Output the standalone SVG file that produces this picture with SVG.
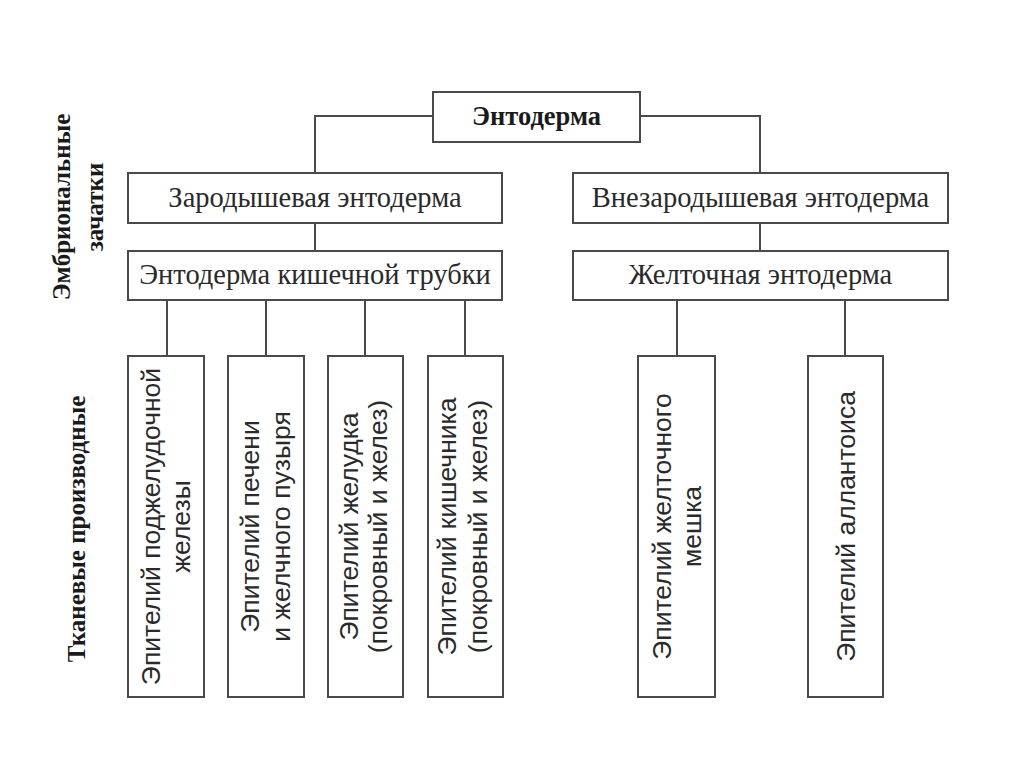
<svg xmlns="http://www.w3.org/2000/svg" width="1024" height="767" viewBox="0 0 1024 767">
<style>
.box{fill:#fff;stroke:#4a4a4a;stroke-width:2}
.ln{fill:none;stroke:#4a4a4a;stroke-width:2}
.h{font-family:"Liberation Serif","Times New Roman",serif;font-size:28.5px;fill:#2a2a2a;text-anchor:middle}
.hb{font-family:"Liberation Serif","Times New Roman",serif;font-size:26.5px;font-weight:bold;fill:#1a1a1a;text-anchor:middle}
.v{font-family:"Liberation Sans",Arial,sans-serif;font-size:26.5px;fill:#2a2a2a;text-anchor:middle}
.lab{font-family:"Liberation Serif","Times New Roman",serif;font-size:25px;font-weight:bold;fill:#1a1a1a;text-anchor:middle}
</style>
<rect width="1024" height="767" fill="#fff"/>
<g id="connectors">
<path class="ln" d="M433 116H315V173M640 116H760V173M315 223V251M760 223V251"/>
<path class="ln" d="M167 300V356M266 300V356M365 300V356M465 300V356M677 300V356M845 300V356"/>
</g>
<g id="labels">
<text class="lab" transform="translate(70,207) rotate(-90)">Эмбриональные</text>
<text class="lab" transform="translate(103,207) rotate(-90)">зачатки</text>
<text class="lab" transform="translate(85,529) rotate(-90)">Тканевые производные</text>
</g>
<g id="n-root"><rect class="box" x="433" y="92" width="207" height="50"/><text class="hb" x="536.5" y="125">Энтодерма</text></g>
<g id="n-zar"><rect class="box" x="128" y="173" width="374" height="50"/><text class="h" x="315" y="207">Зародышевая энтодерма</text></g>
<g id="n-vnezar"><rect class="box" x="573" y="173" width="375" height="50"/><text class="h" x="760.5" y="207">Внезародышевая энтодерма</text></g>
<g id="n-kish"><rect class="box" x="128" y="251" width="374" height="49"/><text class="h" x="315" y="284">Энтодерма кишечной трубки</text></g>
<g id="n-zhelt"><rect class="box" x="573" y="251" width="375" height="49"/><text class="h" x="760.5" y="284">Желточная энтодерма</text></g>
<g id="n-podzh"><rect class="box" x="128" y="356" width="76" height="341"/>
<text class="v" transform="translate(160,526.5) rotate(-90)">Эпителий поджелудочной</text>
<text class="v" transform="translate(190,526.5) rotate(-90)">железы</text></g>
<g id="n-pech"><rect class="box" x="228" y="356" width="76" height="341"/>
<text class="v" transform="translate(259,526.5) rotate(-90)">Эпителий печени</text>
<text class="v" transform="translate(290,526.5) rotate(-90)">и желчного пузыря</text></g>
<g id="n-zhel"><rect class="box" x="328" y="356" width="75" height="341"/>
<text class="v" transform="translate(358,526.5) rotate(-90)">Эпителий желудка</text>
<text class="v" transform="translate(387,526.5) rotate(-90)">(покровный и желез)</text></g>
<g id="n-kishech"><rect class="box" x="428" y="356" width="75" height="341"/>
<text class="v" transform="translate(456,526.5) rotate(-90)">Эпителий кишечника</text>
<text class="v" transform="translate(487,526.5) rotate(-90)">(покровный и желез)</text></g>
<g id="n-meshok"><rect class="box" x="638" y="356" width="77" height="341"/>
<text class="v" transform="translate(671,526.5) rotate(-90)">Эпителий желточного</text>
<text class="v" transform="translate(701,526.5) rotate(-90)">мешка</text></g>
<g id="n-allant"><rect class="box" x="808" y="356" width="75" height="341"/>
<text class="v" transform="translate(855,526.5) rotate(-90)">Эпителий аллантоиса</text></g>
</svg>
